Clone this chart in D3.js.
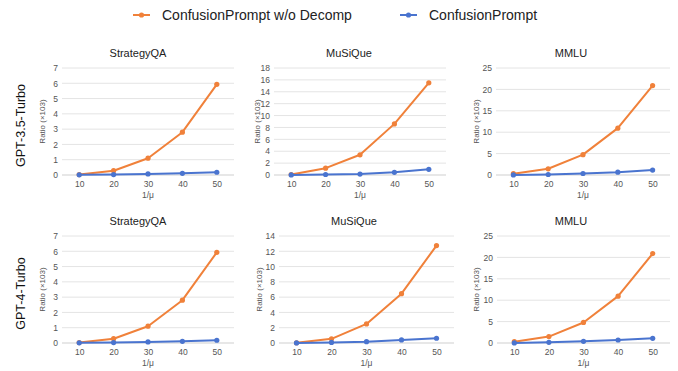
<!DOCTYPE html>
<html>
<head>
<meta charset="utf-8">
<script src="https://cdn.jsdelivr.net/npm/d3@7"></script>
<style>
  body { margin: 0; background: #fff; }
  text { font-family: Arial, "Liberation Sans", sans-serif; }
</style>
</head>
<body>
<div id="chart"></div>
<script>
// data
const xValues = [10, 20, 30, 40, 50];
const models = ["GPT-3.5-Turbo", "GPT-4-Turbo"];
const datasets = ["StrategyQA", "MuSiQue", "MMLU"];
const seriesNames = ["ConfusionPrompt w/o Decomp", "ConfusionPrompt"];

const yMax = [[7, 18, 25], [7, 14, 25]];
const yStep = [[1, 2, 5], [1, 2, 5]];

// GPT-3.5-Turbo, one array per dataset
const gpt35WoDecomp = [
  [0.03, 0.28, 1.1, 2.8, 5.93],
  [0.08, 1.15, 3.4, 8.6, 15.5],
  [0.3, 1.45, 4.75, 10.95, 20.9]
];
const gpt35Confusion = [
  [0.01, 0.03, 0.07, 0.11, 0.18],
  [0.02, 0.08, 0.15, 0.45, 0.95],
  [0.02, 0.12, 0.35, 0.65, 1.15]
];
// GPT-4-Turbo
const gpt4WoDecomp = [
  [0.03, 0.28, 1.1, 2.8, 5.93],
  [0.02, 0.55, 2.5, 6.45, 12.75],
  [0.3, 1.5, 4.8, 10.95, 20.9]
];
const gpt4Confusion = [
  [0.01, 0.03, 0.07, 0.11, 0.18],
  [0.01, 0.08, 0.17, 0.4, 0.62],
  [0.02, 0.15, 0.4, 0.7, 1.1]
];

const colors = ["#f0813a", "#4a74cf"];

const W = 678, H = 371;
const svg = d3.select('#chart').append('svg')
  .attr('width', W).attr('height', H);

// panel layout
const xRanges = [
  [[62, 234], [274, 446], [496, 670]],
  [[62, 234], [279, 454], [497, 670]]
];
const titleX = [[138, 349, 571], [138, 354, 571]];
const yLabelX = [[45, 260, 479], [45, 262, 479]];
const rowTop = [68, 236];
const plotH = 107;

const woData = [gpt35WoDecomp, gpt4WoDecomp];
const cpData = [gpt35Confusion, gpt4Confusion];

models.forEach((m, r) => {
  const top = rowTop[r], bottom = top + plotH;

  svg.append('text')
    .attr('transform', `translate(25,${(top + bottom) / 2 + 4}) rotate(-90)`)
    .attr('text-anchor', 'middle')
    .attr('font-size', 12.5)
    .attr('fill', '#111')
    .text(m);

  datasets.forEach((ds, c) => {
    const [x0, x1] = xRanges[r][c];
    const x = d3.scalePoint().domain(xValues).range([x0, x1]).padding(0.5);
    const y = d3.scaleLinear().domain([0, yMax[r][c]]).range([bottom, top]);
    const ticks = d3.range(0, yMax[r][c] + 0.001, yStep[r][c]);

    const g = svg.append('g');

    // gridlines
    g.selectAll('.grid').data(ticks).enter().append('line')
      .attr('x1', x0).attr('x2', x1)
      .attr('y1', d => y(d)).attr('y2', d => y(d))
      .attr('stroke', d => d === 0 ? '#cfcfcf' : '#e4e4e4')
      .attr('stroke-width', 1);

    // y axis
    const yAxis = g.append('g')
      .attr('transform', `translate(${x0 - 4},0)`)
      .call(d3.axisLeft(y).tickValues(ticks).tickFormat(d3.format('d'))
        .tickSize(0).tickPadding(0));
    yAxis.select('.domain').remove();
    yAxis.selectAll('text').attr('font-size', 8.5).attr('fill', '#555')
      .attr('font-family', 'Arial, "Liberation Sans", sans-serif');

    // x axis
    const xAxis = g.append('g')
      .attr('transform', `translate(0,${bottom + 6})`)
      .call(d3.axisBottom(x).tickSize(0).tickPadding(0));
    xAxis.select('.domain').remove();
    xAxis.selectAll('text').attr('font-size', 8.5).attr('fill', '#555')
      .attr('font-family', 'Arial, "Liberation Sans", sans-serif');

    // titles
    g.append('text')
      .attr('x', titleX[r][c]).attr('y', top - 11)
      .attr('text-anchor', 'middle')
      .attr('font-size', 11).attr('fill', '#222')
      .text(ds);

    g.append('text')
      .attr('x', (x0 + x1) / 2).attr('y', bottom + 23)
      .attr('text-anchor', 'middle')
      .attr('font-size', 8.5).attr('fill', '#555')
      .text('1/\u03bc');

    g.append('text')
      .attr('transform', `translate(${yLabelX[r][c]},${(top + bottom) / 2}) rotate(-90)`)
      .attr('text-anchor', 'middle')
      .attr('font-size', 8).attr('fill', '#555')
      .text('Ratio (\u00d7103)');

    const line = d3.line().x((d, i) => x(xValues[i])).y(d => y(d));
    [woData[r][c], cpData[r][c]].forEach((vals, s) => {
      g.append('path')
        .datum(vals)
        .attr('d', line)
        .attr('fill', 'none')
        .attr('stroke', colors[s])
        .attr('stroke-width', 2)
        .attr('stroke-linejoin', 'round');
      g.selectAll(null).data(vals).enter().append('circle')
        .attr('cx', (d, i) => x(xValues[i]))
        .attr('cy', d => y(d))
        .attr('r', 2.6)
        .attr('fill', colors[s]);
    });
  });
});

// legend
const legendX = [133, 400];
seriesNames.forEach((name, s) => {
  const lg = svg.append('g').attr('transform', `translate(${legendX[s]},15)`);
  lg.append('line').attr('x1', 0).attr('x2', 17)
    .attr('stroke', colors[s]).attr('stroke-width', 2);
  lg.append('circle').attr('cx', 8.5).attr('r', 2.6).attr('fill', colors[s]);
  lg.append('text').attr('x', 29).attr('y', 5)
    .attr('font-size', 14).attr('fill', '#222')
    .text(name);
});
</script>
</body>
</html>
